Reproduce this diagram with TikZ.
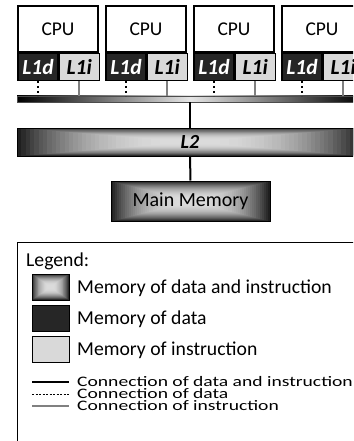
\documentclass[tikz,border=0pt]{standalone}
\usepackage{fontspec}
\setmainfont{Carlito}
\newfontfamily\widefont[FakeStretch=1.35]{Carlito}
\usetikzlibrary{positioning,calc}

\def\cpuwidth{80pt}
\def\cpuheight{46pt}
\def\cpustep{88}

\begin{document}
\begin{tikzpicture}[x=1pt,y=-1pt]
    \tikzstyle{cpu}=[draw=black,line width=1.2pt,minimum width=\cpuwidth,minimum height=\cpuheight,inner sep=0pt,font=\fontsize{19.5}{20}\selectfont]
    \tikzstyle{cache}=[draw=black,line width=1.2pt,minimum width=40pt,minimum height=27pt,inner sep=0pt,font=\fontsize{21.5}{22}\selectfont\bfseries\itshape]
    \tikzstyle{l1d}=[cache,fill=black!85,text=white]
    \tikzstyle{l1i}=[cache,fill=black!15]
    \tikzstyle{memgrad}=[draw=black,line width=1pt,inner sep=0pt,path picture={
        \foreach \k in {0,...,39}{
            \pgfmathtruncatemacro\lev{14+74*(1-\k/40)^2.5}
            \fill[black!\lev] ($(path picture bounding box.south west)!\k/80!(path picture bounding box.north east)$)
                rectangle ($(path picture bounding box.north east)!\k/80!(path picture bounding box.south west)$);
        }}]
    \tikzstyle{keysq}=[minimum width=37pt,minimum height=26pt,inner sep=0pt,draw=black,line width=1pt]
    \tikzstyle{keytxt}=[inner sep=0pt,anchor=base west,font=\fontsize{19.7}{20}\selectfont]
    \tikzstyle{linetxt}=[inner sep=0pt,anchor=base west,font=\widefont\fontsize{14.5}{15}\selectfont]
    \tikzstyle{dataln}=[line width=2pt,dash pattern=on 2.5pt off 2.5pt]
    \tikzstyle{instln}=[line width=1.6pt,draw=black!50]
    \tikzstyle{bothln}=[line width=2pt]

    \useasboundingbox (0,0) rectangle (353,441);
    \clip (0,0) rectangle (353,441);

    % cores with their L1 caches
    \foreach \i in {0,...,3}{
        \node[cpu] (cpu\i) at (58+\i*\cpustep,29) {CPU};
        \node[l1d,below right=0pt and 0pt of cpu\i.south west] (d\i) {L1d};
        \node[l1i,right=0pt of d\i] (i\i) {L1i};
    }

    \node[draw=black!70,line width=0.4pt,minimum width=346pt,minimum height=6pt,inner sep=0pt,
          left color=black,right color=black,middle color=black!10] (bus) at (190,99) {};

    \foreach \i in {0,...,3}{
        \draw[dataln] (d\i.south) -- (d\i.south |- bus.north);
        \draw[instln] (i\i.south) -- (i\i.south |- bus.north);
    }

    \node[memgrad,minimum width=346pt,minimum height=28pt,font=\fontsize{20}{20}\selectfont\bfseries\itshape] (l2) at (190,142) {L2};
    \node[memgrad,minimum width=159pt,minimum height=40pt,font=\fontsize{20}{20}\selectfont] (mem) at (190.5,201) {Main Memory};

    \draw[bothln] (bus.south) -- (l2.north);
    \draw[bothln] (l2.south) -- (mem.north);

    % legend
    \draw[line width=1pt] (17.5,242) rectangle (420,480);
    \node[keytxt] (leg) at (26,266) {Legend:};

    \node[memgrad,keysq] (sqa) at (50.5,287) {};
    \node[keysq,fill=black!85] (sqb) at (50.5,318) {};
    \node[keysq,fill=black!15] (sqc) at (50.5,349.5) {};
    \node[keytxt] (ta) at (77,293) {Memory of data and instruction};
    \node[keytxt] (tb) at (77,324) {Memory of data};
    \node[keytxt] (tc) at (77,355.5) {Memory of instruction};

    \draw[line width=1.5pt] (32,382) -- (69,382);
    \draw[line width=1pt,dash pattern=on 2pt off 1.5pt] (32,394) -- (69,394);
    \draw[instln] (32,406) -- (69,406);
    \node[linetxt] (td) at (77,386.5) {Connection of data and instruction};
    \node[linetxt] (te) at (77,398.5) {Connection of data};
    \node[linetxt] (tf) at (77,410.5) {Connection of instruction};
\end{tikzpicture}
\end{document}
